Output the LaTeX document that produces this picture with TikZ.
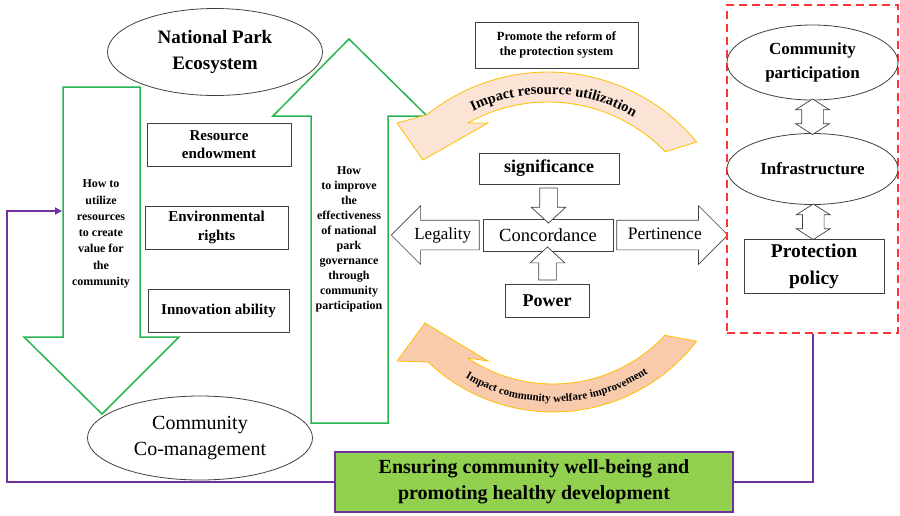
\documentclass[tikz,border=0pt]{standalone}
\usepackage{fontspec}
\setmainfont{Liberation Serif}
\usetikzlibrary{shapes,shapes.arrows,calc,arrows.meta,decorations.text}
\definecolor{parkgreen}{RGB}{40,180,80}
\definecolor{purp}{RGB}{112,48,160}
\definecolor{dashred}{RGB}{255,51,51}
\definecolor{limefill}{RGB}{146,208,80}
\definecolor{peachlight}{RGB}{251,228,213}
\definecolor{peachdark}{RGB}{248,203,173}
\definecolor{gold}{RGB}{255,192,0}
\tikzstyle{Rbox}=[shape=rectangle,draw=black!75,line width=0.8pt,fill=white,align=center,inner sep=0pt]
\tikzstyle{Ebox}=[shape=ellipse,draw=black!75,line width=0.8pt,fill=white,align=center,inner sep=0pt]
\tikzstyle{greenarrow}=[draw=parkgreen,line width=1.5pt,line join=miter]
\tikzstyle{hollow}=[single arrow,draw=black!75,line width=0.7pt,fill=white,inner sep=0pt]
\tikzstyle{twoway}=[double arrow,draw=black!75,line width=0.7pt,fill=white,inner sep=0pt]
\tikzstyle{curveband}=[draw=gold,line width=0.8pt]
\tikzstyle{purpline}=[draw=purp,line width=2pt]
\begin{document}
\begin{tikzpicture}[x=1pt,y=-1pt]
\useasboundingbox (0,0) rectangle (900,515);

% left side: two green block arrows
\draw[greenarrow] (63,87) -- (140,87) -- (140,337) -- (179,337) -- (102,414) -- (24,337) -- (63,337) -- cycle;
\draw[greenarrow] (311,423) -- (311,116) -- (273,116) -- (349,39) -- (427,116) -- (388,116) -- (388,423) -- cycle;
\coordinate (dnin) at (62,211);
\coordinate (lturn) at (7,211);

\node[align=center,font=\bfseries\fontsize{12}{16.3}\selectfont] (howuse) at (101,234)
  {How to\\utilize\\resources\\to create\\value for\\the\\community};
\node[align=center,font=\bfseries\fontsize{12}{15}\selectfont] (howimp) at (349,239.5)
  {How\\to improve\\the\\effectiveness\\of national\\park\\governance\\through\\community\\participation};

\node[Ebox,minimum width=215,minimum height=87,font=\bfseries\fontsize{19}{26}\selectfont] (eco) at (215,52) {National Park\\Ecosystem};
\node[Ebox,minimum width=225,minimum height=84,font=\fontsize{20}{26}\selectfont] (comg) at (200,438) {Community\\Co-management};

\node[Rbox,minimum width=144,minimum height=43,font=\bfseries\fontsize{15}{18}\selectfont] (res) at (219,144.5) {Resource\\endowment};
\node[Rbox,minimum width=143,minimum height=43,font=\bfseries\fontsize{15}{19}\selectfont] (env) at (216.5,227.5) {Environmental\\rights};
\node[Rbox,minimum width=141,minimum height=43,font=\bfseries\fontsize{15}{18}\selectfont] (inn) at (218.5,310.5) {Innovation ability};

% centre: curved arrows
\filldraw[curveband,fill=peachlight] plot[domain=-39.6:-128.9,samples=40] ({548+193*cos(\x)},{265+193*sin(\x)})
  -- (397,123) -- (423,160) -- (488,123) -- (468,123)
  -- plot[domain=-119.4:-44,samples=40] ({548+163*cos(\x)},{265+163*sin(\x)}) -- cycle;
\path[decorate,decoration={text along path,text align=center,
  text={|\bfseries\fontsize{14.5}{14.5}\selectfont|Impact resource utilization}}]
  plot[domain=-128:-48,samples=40] ({548+171*cos(\x)},{265+171*sin(\x)});

\filldraw[curveband,fill=peachdark] plot[domain=37.5:133.6,samples=40] ({553+181*cos(\x)},{231+181*sin(\x)})
  -- (397,361) -- (425,323) -- (488,361) -- (468,358)
  -- plot[domain=123.7:43,samples=40] ({553+153*cos(\x)},{231+153*sin(\x)}) -- cycle;
\path[decorate,decoration={text along path,text align=center,
  text={|\bfseries\fontsize{11}{11}\selectfont|Impact community welfare improvement}}]
  plot[domain=127:50,samples=40] ({553+171*cos(\x)},{231+171*sin(\x)});

\node[Rbox,minimum width=163,minimum height=46,font=\bfseries\fontsize{12.5}{15.5}\selectfont] (reform) at (556.5,45) {Promote the reform of\\the protection system};
\node[Rbox,minimum width=140,minimum height=31,font=\bfseries\fontsize{18}{18}\selectfont] (sig) at (549,168.5) {significance};
\node[Rbox,minimum width=130,minimum height=32,font=\fontsize{18.5}{18.5}\selectfont] (conc) at (548,235) {Concordance};
\node[Rbox,minimum width=84,minimum height=33,font=\bfseries\fontsize{18}{18}\selectfont] (power) at (547,300.5) {Power};

\node[hollow,shape border rotate=270,minimum height=35,inner sep=8.5,single arrow head extend=8.5,single arrow tip angle=95] (sigdown) at ($(sig.south)!0.5!(conc.north)$) {};
\node[hollow,shape border rotate=90,minimum height=33,inner sep=8.5,single arrow head extend=8.5,single arrow tip angle=95] (powup) at ($(power.north)!0.5!(conc.south)$) {};
\node[hollow,shape border rotate=180,font=\fontsize{17}{17}\selectfont,text height=12,text depth=4,inner ysep=6.5,inner xsep=3,single arrow head extend=14.5,minimum height=88,anchor=tail] (leg) at ([xshift=-3pt]conc.west) {Legality};
\node[hollow,font=\fontsize{17.5}{17.5}\selectfont,text height=12,text depth=4,inner ysep=6.5,inner xsep=3,single arrow head extend=14.5,minimum height=111,anchor=tail] (pert) at ([xshift=3pt]conc.east) {Pertinence};

% right side
\node[draw=dashred,line width=1.5pt,dash pattern=on 8pt off 5pt,minimum width=171,minimum height=328,inner sep=0pt] (redbox) at (812.5,169) {};
\node[Ebox,minimum width=171,minimum height=75,font=\bfseries\fontsize{17}{24}\selectfont] (cpart) at (812.5,62.5) {Community\\participation};
\node[Ebox,minimum width=171,minimum height=71,font=\bfseries\fontsize{17}{17}\selectfont] (infra) at (812.5,169) {Infrastructure};
\node[Rbox,minimum width=140,minimum height=54,font=\bfseries\fontsize{19.5}{27}\selectfont] (policy) at (814,266) {Protection\\policy};
\node[twoway,shape border rotate=90,minimum height=33,inner sep=10.5,double arrow head extend=6,double arrow tip angle=115] (cpinf) at ($(cpart.south)!0.5!(infra.north)$) {};
\node[twoway,shape border rotate=90,minimum height=33,inner sep=10.5,double arrow head extend=6,double arrow tip angle=115] (infpol) at ($(infra.south)!0.5!(policy.north)$) {};

% bottom
\draw[purpline,-{Triangle[length=7pt,width=7pt]}] (534,482) -| (lturn) -- (dnin);
\draw[purpline] (534,482) -| (redbox.south);
\node[Rbox,draw=purp,line width=1.2pt,fill=limefill,minimum width=398,minimum height=60,font=\bfseries\fontsize{20}{26}\selectfont] (ens) at (534,482) {Ensuring community well-being and\\promoting healthy development};

\end{tikzpicture}
\end{document}
